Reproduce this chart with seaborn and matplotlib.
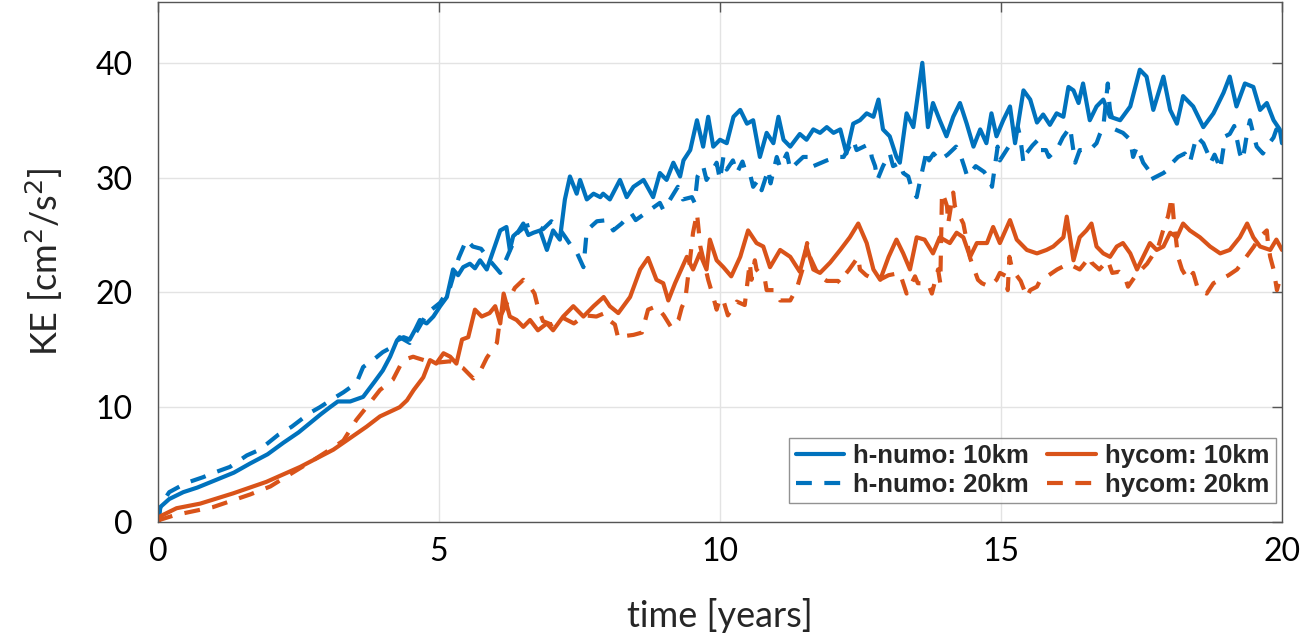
import numpy as np
import pandas as pd
import matplotlib
matplotlib.use("Agg")
import matplotlib.pyplot as plt
import seaborn as sns
from matplotlib.lines import Line2D

# ---------------- data ----------------
hn10_t = [0, 0.04, 0.2, 0.45, 0.7, 1.05, 1.35, 1.64, 1.95, 2.23, 2.5, 2.7, 2.9, 3.06, 3.2, 3.42, 3.65, 3.85, 4.0, 4.13,
          4.25, 4.37, 4.48, 4.58, 4.66, 4.78, 4.9, 5.02, 5.14, 5.25, 5.34, 5.43, 5.55, 5.64, 5.73, 5.85, 5.97, 6.09, 6.2, 6.26,
          6.32, 6.41, 6.5, 6.59, 6.68, 6.8, 6.92, 7.03, 7.15, 7.24, 7.33, 7.45, 7.51, 7.63, 7.75, 7.87, 7.92, 8.04, 8.22, 8.34,
          8.46, 8.64, 8.81, 8.93, 9.05, 9.17, 9.29, 9.35, 9.47, 9.59, 9.7, 9.79, 9.88, 10.0, 10.12, 10.24, 10.36, 10.48, 10.59, 10.71,
          10.83, 10.95, 11.04, 11.13, 11.25, 11.42, 11.54, 11.66, 11.78, 11.9, 12.02, 12.14, 12.25, 12.37, 12.49, 12.61, 12.73, 12.82, 12.9, 13.02,
          13.14, 13.2, 13.32, 13.44, 13.6, 13.7, 13.79, 13.91, 14.03, 14.15, 14.27, 14.39, 14.51, 14.63, 14.74, 14.83, 14.92, 15.04, 15.16, 15.25,
          15.4, 15.52, 15.64, 15.75, 15.87, 15.99, 16.11, 16.2, 16.29, 16.38, 16.46, 16.58, 16.7, 16.82, 16.94, 17.12, 17.3, 17.47, 17.59, 17.71,
          17.89, 18.01, 18.13, 18.24, 18.42, 18.6, 18.78, 18.96, 19.07, 19.19, 19.34, 19.49, 19.61, 19.73, 19.85, 19.96, 20.0]
hn10_ke = [0, 1.3, 2.0, 2.6, 3.0, 3.7, 4.3, 5.1, 5.9, 6.9, 7.8, 8.6, 9.4, 10.0, 10.5, 10.5, 10.9, 12.2, 13.2, 14.4,
           15.8, 16.1, 15.9, 16.8, 17.6, 17.3, 17.9, 18.8, 19.6, 22.0, 21.5, 22.2, 22.5, 22.1, 22.8, 22.0, 23.7, 25.4, 25.7, 23.7,
           24.9, 25.3, 26.0, 25.0, 25.2, 25.4, 23.7, 25.4, 24.6, 28.1, 30.1, 28.6, 29.8, 28.1, 28.6, 28.3, 28.6, 28.1, 29.8, 28.3,
           29.2, 29.8, 28.3, 30.4, 29.8, 31.3, 30.1, 31.5, 32.4, 35.0, 32.7, 35.3, 32.7, 33.3, 33.0, 35.3, 35.9, 34.7, 35.0, 31.8,
           33.9, 33.0, 35.3, 33.3, 32.7, 33.8, 33.3, 34.2, 33.9, 34.4, 33.9, 34.2, 32.1, 34.7, 35.0, 35.6, 35.3, 36.8, 34.2, 33.6,
           31.8, 31.3, 35.6, 34.4, 40.0, 34.4, 36.5, 35.0, 33.6, 35.3, 36.5, 34.7, 32.7, 34.2, 33.0, 35.6, 33.6, 35.0, 36.2, 33.0,
           37.6, 36.8, 34.8, 35.5, 34.6, 35.6, 35.3, 37.9, 37.6, 36.5, 38.2, 35.0, 36.2, 36.8, 35.3, 35.0, 36.2, 39.4, 38.8, 35.9,
           38.8, 35.9, 34.7, 37.1, 36.2, 34.4, 35.6, 37.4, 38.8, 36.2, 38.2, 37.9, 35.9, 36.5, 35.0, 34.2, 33.0]

hn20_t = [0, 0.05, 0.2, 0.5, 0.8, 1.0, 1.28, 1.58, 1.81, 2.14, 2.38, 2.7, 2.88, 3.1, 3.3, 3.53, 3.65, 3.85, 4.0, 4.15,
          4.3, 4.48, 4.65, 4.79, 5.02, 5.2, 5.35, 5.49, 5.6, 5.75, 5.9, 6.09, 6.25, 6.4, 6.55, 6.7, 6.85, 7.0, 7.15, 7.25,
          7.36, 7.45, 7.57, 7.63, 7.81, 8.0, 8.1, 8.25, 8.42, 8.5, 8.7, 8.93, 8.99, 9.1, 9.25, 9.34, 9.5, 9.55, 9.6, 9.7,
          9.76, 9.85, 9.94, 10.0, 10.06, 10.12, 10.23, 10.3, 10.4, 10.45, 10.53, 10.59, 10.68, 10.74, 10.86, 10.9, 11.01, 11.07, 11.19, 11.25,
          11.35, 11.48, 11.6, 11.66, 11.9, 12.08, 12.2, 12.37, 12.43, 12.6, 12.67, 12.7, 12.76, 12.8, 12.9, 13.02, 13.08, 13.2, 13.26, 13.35,
          13.42, 13.5, 13.55, 13.68, 13.72, 13.8, 13.9, 14.05, 14.2, 14.27, 14.35, 14.4, 14.55, 14.7, 14.8, 14.84, 14.94, 14.98, 15.15, 15.3,
          15.34, 15.4, 15.45, 15.56, 15.66, 15.7, 15.8, 15.85, 16.0, 16.1, 16.23, 16.26, 16.32, 16.4, 16.58, 16.7, 16.76, 16.82, 16.9, 16.92,
          16.94, 17.03, 17.17, 17.3, 17.35, 17.42, 17.53, 17.62, 17.65, 17.77, 17.89, 17.97, 18.05, 18.15, 18.27, 18.36, 18.48, 18.6, 18.68, 18.73,
          18.8, 18.86, 18.9, 18.99, 19.07, 19.15, 19.25, 19.3, 19.38, 19.43, 19.5, 19.55, 19.66, 19.73, 19.85, 19.9, 20.0]
hn20_ke = [0, 1.5, 2.6, 3.4, 3.9, 4.3, 4.8, 5.8, 6.3, 7.6, 8.3, 9.5, 10.0, 10.7, 11.3, 12.1, 13.5, 14.2, 14.8, 15.2,
           16.1, 15.6, 17.0, 18.2, 19.1, 20.5, 23.0, 24.6, 24.0, 23.8, 22.8, 21.7, 23.5, 25.2, 25.8, 26.0, 25.5, 26.2, 25.5, 24.8,
           24.0, 23.5, 22.2, 25.4, 26.2, 26.3, 25.4, 26.0, 26.9, 26.3, 27.0, 27.8, 27.2, 28.0, 29.2, 28.1, 28.3, 27.8, 30.1, 31.0,
           29.8, 30.5, 31.3, 29.8, 31.8, 30.7, 31.5, 30.4, 31.4, 30.6, 30.4, 29.2, 29.8, 28.9, 30.7, 29.5, 31.8, 30.9, 32.1, 30.7,
           31.2, 31.8, 31.8, 31.0, 31.5, 31.8, 31.8, 33.3, 32.4, 32.8, 32.7, 31.8, 31.0, 29.8, 31.0, 32.1, 31.0, 31.3, 30.4, 30.1,
           28.9, 28.3, 29.5, 32.4, 31.5, 32.1, 31.5, 32.0, 32.7, 32.1, 30.9, 30.1, 31.0, 30.5, 29.8, 29.2, 32.7, 31.5, 32.8, 34.4,
           33.6, 31.3, 32.1, 32.8, 33.3, 32.4, 32.4, 31.8, 32.5, 33.5, 34.4, 33.3, 31.3, 32.4, 32.4, 33.0, 33.8, 34.4, 38.2, 36.8,
           35.9, 34.2, 33.9, 33.3, 31.8, 32.7, 31.3, 30.7, 29.8, 30.1, 30.4, 30.7, 31.3, 31.8, 32.1, 31.3, 33.6, 33.0, 32.1, 31.3,
           32.0, 31.3, 30.7, 33.6, 33.8, 34.5, 32.1, 31.5, 33.9, 35.0, 33.6, 32.7, 32.1, 32.7, 33.5, 34.2, 33.0]

hy10_t = [0, 0.04, 0.33, 0.75, 1.34, 1.93, 2.53, 3.12, 3.71, 3.95, 4.3, 4.43, 4.55, 4.72, 4.84, 4.95, 5.08, 5.2, 5.31, 5.41,
          5.52, 5.64, 5.76, 5.9, 6.0, 6.09, 6.15, 6.26, 6.38, 6.5, 6.62, 6.76, 6.92, 7.03, 7.21, 7.39, 7.57, 7.75, 7.93, 8.04,
          8.19, 8.4, 8.58, 8.72, 8.87, 8.99, 9.08, 9.2, 9.41, 9.52, 9.64, 9.76, 9.82, 9.94, 10.06, 10.2, 10.36, 10.5, 10.65, 10.77,
          10.89, 11.07, 11.25, 11.42, 11.54, 11.66, 11.78, 11.96, 12.14, 12.31, 12.46, 12.61, 12.73, 12.85, 13.0, 13.14, 13.26, 13.38, 13.5, 13.64,
          13.79, 13.91, 14.09, 14.21, 14.33, 14.45, 14.57, 14.75, 14.86, 14.98, 15.16, 15.28, 15.46, 15.64, 15.81, 15.93, 16.11, 16.17, 16.29, 16.4,
          16.52, 16.61, 16.7, 16.82, 16.94, 17.06, 17.17, 17.3, 17.42, 17.53, 17.65, 17.77, 17.89, 18.01, 18.13, 18.24, 18.36, 18.54, 18.72, 18.9,
          19.07, 19.25, 19.38, 19.49, 19.61, 19.79, 19.9, 20.0]
hy10_ke = [0, 0.5, 1.2, 1.6, 2.5, 3.5, 4.8, 6.3, 8.3, 9.2, 10.0, 10.6, 11.5, 12.6, 14.1, 13.8, 14.7, 14.4, 13.8, 15.9,
           16.1, 18.5, 17.9, 18.2, 18.8, 17.3, 19.9, 17.9, 17.6, 17.0, 17.6, 16.7, 17.3, 16.7, 17.9, 18.8, 17.9, 18.8, 19.6, 18.8,
           18.2, 19.6, 22.0, 23.0, 21.1, 20.8, 19.3, 20.8, 23.1, 22.0, 23.4, 22.0, 24.6, 22.8, 22.2, 21.4, 23.1, 25.4, 24.3, 24.0,
           22.2, 23.7, 23.1, 21.8, 24.0, 22.0, 21.7, 22.6, 23.7, 24.8, 26.0, 24.3, 22.0, 21.1, 23.1, 24.6, 23.4, 22.0, 24.8, 24.6,
           23.4, 24.8, 24.3, 25.2, 24.8, 23.1, 24.3, 24.3, 25.7, 24.3, 26.3, 24.6, 23.7, 23.4, 23.7, 24.0, 24.8, 26.6, 22.8, 24.8,
           25.4, 26.0, 24.0, 23.4, 23.1, 24.0, 24.3, 23.4, 22.0, 23.1, 24.3, 23.7, 24.0, 25.2, 24.8, 26.0, 25.4, 24.8, 24.0, 23.4,
           23.7, 24.8, 26.0, 24.8, 24.0, 23.7, 24.6, 23.7]

hy20_t = [0, 0.04, 0.3, 0.69, 0.98, 1.34, 1.64, 2.0, 2.23, 2.5, 2.8, 3.12, 3.3, 3.53, 3.71, 3.95, 4.18, 4.36, 4.54, 4.6,
          4.8, 5.0, 5.2, 5.43, 5.61, 5.75, 5.85, 6.03, 6.09, 6.2, 6.35, 6.5, 6.62, 6.7, 6.76, 6.85, 7.0, 7.2, 7.4, 7.6,
          7.8, 7.95, 8.05, 8.13, 8.19, 8.3, 8.46, 8.61, 8.72, 8.87, 9.0, 9.14, 9.2, 9.26, 9.32, 9.38, 9.41, 9.47, 9.52, 9.59,
          9.65, 9.76, 9.79, 9.88, 9.94, 10.0, 10.06, 10.14, 10.3, 10.44, 10.53, 10.56, 10.62, 10.65, 10.8, 10.83, 10.98, 11.07, 11.25, 11.37,
          11.48, 11.55, 11.6, 11.75, 11.9, 12.1, 12.14, 12.2, 12.3, 12.46, 12.49, 12.6, 12.8, 13.0, 13.2, 13.32, 13.47, 13.52, 13.7, 13.77,
          13.88, 13.92, 13.95, 14.0, 14.04, 14.06, 14.15, 14.18, 14.24, 14.33, 14.45, 14.59, 14.66, 14.8, 14.92, 14.98, 15.1, 15.12, 15.15, 15.2,
          15.35, 15.46, 15.52, 15.64, 15.7, 15.85, 16.0, 16.2, 16.4, 16.58, 16.61, 16.75, 16.9, 16.98, 17.1, 17.2, 17.26, 17.4, 17.6, 17.8,
          17.92, 17.97, 18.04, 18.06, 18.08, 18.1, 18.15, 18.22, 18.33, 18.42, 18.51, 18.66, 18.78, 18.9, 19.05, 19.2, 19.35, 19.5, 19.6, 19.73,
          19.75, 19.79, 19.85, 19.91, 19.96, 20.0]
hy20_ke = [0, 0.2, 0.6, 1.0, 1.3, 1.9, 2.4, 3.1, 3.8, 4.6, 5.5, 6.5, 7.1, 8.9, 10.0, 11.5, 12.4, 14.1, 14.4, 14.3,
           14.0, 13.9, 14.0, 13.4, 12.5, 13.3, 14.3, 15.6, 17.9, 19.0, 20.4, 21.1, 20.5, 19.9, 18.7, 17.5, 17.2, 17.8, 17.3, 18.0,
           17.9, 18.2, 17.5, 17.2, 16.0, 16.2, 16.3, 16.5, 18.5, 18.8, 18.0, 16.9, 17.2, 17.6, 18.7, 19.3, 20.5, 23.0, 25.2, 26.9,
           24.0, 21.7, 21.1, 19.6, 18.5, 19.5, 19.3, 18.0, 19.2, 18.9, 22.6, 21.1, 22.8, 22.0, 21.1, 20.2, 20.2, 19.3, 19.3, 20.4,
           22.2, 24.3, 23.1, 21.5, 21.0, 21.0, 20.8, 21.4, 22.0, 23.1, 22.0, 21.5, 21.0, 21.5, 21.7, 19.9, 21.4, 20.8, 20.8, 19.9,
           22.0, 20.8, 28.7, 28.1, 27.5, 26.0, 28.7, 27.5, 26.9, 26.0, 23.0, 21.1, 20.8, 20.5, 21.1, 21.7, 21.4, 20.2, 23.1, 22.0,
           21.0, 19.6, 20.2, 20.5, 21.1, 21.5, 22.0, 22.5, 22.0, 23.1, 22.6, 22.0, 22.8, 21.7, 21.8, 21.4, 20.5, 21.5, 22.5, 24.0,
           26.0, 26.6, 28.3, 27.2, 26.0, 25.2, 23.1, 22.0, 21.1, 21.7, 20.2, 19.9, 20.8, 21.1, 21.5, 22.0, 23.0, 24.0, 24.8, 25.4,
           24.3, 23.1, 22.0, 20.2, 21.1, 21.0]

labels = ["h-numo: 10km", "h-numo: 20km", "hycom: 10km", "hycom: 20km"]
x_ticks = [0, 5, 10, 15, 20]
y_ticks = [0, 10, 20, 30, 40]

# ---------------- style ----------------
sns.set_theme(style="white")
plt.rcParams["font.family"] = ["Lato", "DejaVu Sans"]
plt.rcParams["lines.scale_dashes"] = True

BLUE = "#0072BD"
ORANGE = "#D95319"
LW = 3.0
DASH = (0, (3.8, 3.0))

fig = plt.figure(figsize=(13.01, 6.36), dpi=100)
ax = fig.add_axes([158 / 1301, 1 - 522 / 636, (1282 - 158) / 1301, (522 - 2) / 636])

series = [
    (hn10_t, hn10_ke, BLUE, "-"),
    (hn20_t, hn20_ke, BLUE, DASH),
    (hy10_t, hy10_ke, ORANGE, "-"),
    (hy20_t, hy20_ke, ORANGE, DASH),
]
for (t, ke, col, ls), lab in zip(series, labels):
    df = pd.DataFrame({"t": t, "ke": ke})
    sns.lineplot(data=df, x="t", y="ke", ax=ax, color=col, linewidth=LW,
                 linestyle=ls, estimator=None, sort=False, legend=False)

ax.set_xlim(0, 20)
ax.set_ylim(0, 45.3)
ax.set_xticks(x_ticks)
ax.set_yticks(y_ticks)
ax.grid(True, color="#e3e3e3", linewidth=1.0)
ax.set_axisbelow(True)
for s in ax.spines.values():
    s.set_visible(True)
    s.set_color("#555555")
    s.set_linewidth(1.0)
ax.tick_params(direction="in", length=7, width=1.0, color="#555555",
               top=True, right=True, labelsize=23, labelcolor="black")
ax.tick_params(axis="x", pad=11)
ax.tick_params(axis="y", pad=18)
ax.set_xlabel("time [years]", fontsize=26, labelpad=22)
ax.set_ylabel("KE [cm$^2$/s$^2$]", fontsize=26, labelpad=22)

handles = [
    Line2D([], [], color=BLUE, lw=LW, linestyle="-"),
    Line2D([], [], color=BLUE, lw=LW, linestyle=DASH),
    Line2D([], [], color=ORANGE, lw=LW, linestyle="-"),
    Line2D([], [], color=ORANGE, lw=LW, linestyle=DASH),
]
leg = ax.legend(handles, labels, ncol=2, loc="lower right",
                bbox_to_anchor=(1 - 6 / 1124, 19 / 520), borderaxespad=0,
                prop={"family": ["Liberation Sans", "DejaVu Sans"], "weight": "bold", "size": 18.5},
                handlelength=1.9, handletextpad=0.35, columnspacing=0.7,
                labelspacing=0.18, borderpad=0.25, frameon=True, fancybox=False)
leg.get_frame().set_edgecolor("#777777")
leg.get_frame().set_linewidth(1.0)

fig.savefig("out.png", dpi=100, facecolor="white")
